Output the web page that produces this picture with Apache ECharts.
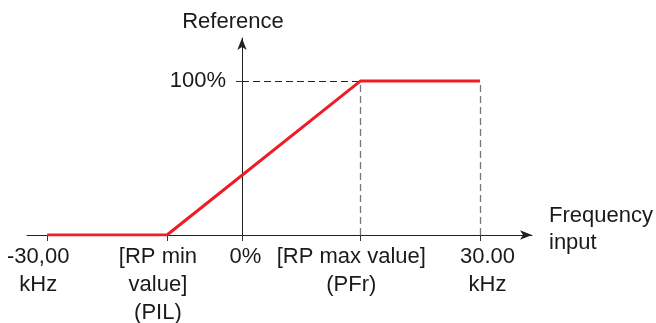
<!DOCTYPE html>
<html>
<head>
<meta charset="utf-8">
<script src="https://cdn.jsdelivr.net/npm/echarts@6/dist/echarts.min.js"></script>
<style>html,body{margin:0;padding:0;background:#fff}#c{width:656px;height:323px}</style>
</head>
<body>
<div id="c"></div>
<script>
// Conceptual x positions (0 = the 0% point where the reference axis sits)
const xTickValues = [-27, -10.4, 0, 16.4, 33];
const xTickLabels = ['-30,00\nkHz', '[RP min\nvalue]\n(PIL)', '0%', '[RP max value]\n(PFr)', '30.00\nkHz'];
const xLabelShift = ['l', 'l', 'r', 'l', 'rr'];
// Reference curve (x position, reference %)
const curveX = [-27, -10.4, 16.4, 33];
const curveY = [0, 0, 100, 100];
const yTickValues = [100];
const yTickLabels = ['100%'];
const xAxisNameLines = ['Frequency', 'input'];

const FONT = 'Liberation Sans, Arial, sans-serif';
const FS = 22;
const chart = echarts.init(document.getElementById('c'));
const curve = curveX.map((x, i) => [x, curveY[i]]);
const XMIN = -29.8, XMAX = 40.2;
const GRID_LEFT = 27, GRID_RIGHT = 124;
const gridW = 656 - GRID_LEFT - GRID_RIGHT;
const yAxisOffset = -gridW * (0 - XMIN) / (XMAX - XMIN);

chart.setOption({
  animation: false,
  grid: { left: GRID_LEFT, right: GRID_RIGHT, top: 38, bottom: 88, outerBoundsMode: 'none', containLabel: false },
  xAxis: {
    type: 'value', min: XMIN, max: XMAX,
    splitLine: { show: false },
    name: xAxisNameLines.map(t => '{a|' + t + '}').join('\n') + '\n{s| }',
    nameLocation: 'end', nameGap: 17,
    nameTextStyle: {
      fontFamily: FONT, fontSize: FS, color: '#1a1a1a', align: 'left',
      rich: {
        a: { fontFamily: FONT, fontSize: FS, color: '#1a1a1a', lineHeight: 27 },
        s: { fontSize: 8, lineHeight: 12 }
      }
    },
    axisLine: { onZero: false, symbol: ['none', 'arrow'], symbolSize: [7, 12], lineStyle: { color: '#222', width: 1 } },
    axisTick: { show: true, customValues: xTickValues, length: 6, lineStyle: { color: '#333' } },
    axisLabel: {
      customValues: xTickValues, margin: 8, showMinLabel: true, showMaxLabel: true, hideOverlap: false,
      fontFamily: FONT, fontSize: FS, color: '#1a1a1a', lineHeight: 28,
      formatter: function (v) {
        const i = xTickValues.indexOf(v);
        if (i < 0) return '';
        const s = xLabelShift[i];
        return xTickLabels[i].split('\n').map(t => '{' + s + '|' + t + '}').join('\n');
      },
      rich: {
        l: { fontFamily: FONT, fontSize: FS, color: '#1a1a1a', lineHeight: 28, padding: [0, 18, 0, 0] },
        r: { fontFamily: FONT, fontSize: FS, color: '#1a1a1a', lineHeight: 28, padding: [0, 0, 0, 7] },
        rr: { fontFamily: FONT, fontSize: FS, color: '#1a1a1a', lineHeight: 28, padding: [0, 0, 0, 15] }
      }
    }
  },
  yAxis: {
    type: 'value', min: 0, max: 128, position: 'left', offset: yAxisOffset,
    splitLine: { show: false },
    name: 'Reference', nameLocation: 'end', nameGap: 5,
    nameTextStyle: { fontFamily: FONT, fontSize: FS, color: '#1a1a1a', padding: [0, 18, 0, 0] },
    axisLine: { onZero: false, symbol: ['none', 'arrow'], symbolSize: [7, 12], lineStyle: { color: '#222', width: 1 } },
    axisTick: { show: true, customValues: yTickValues, length: 6, lineStyle: { color: '#333' } },
    axisLabel: {
      customValues: yTickValues, margin: 16, showMaxLabel: true,
      fontFamily: FONT, fontSize: FS, color: '#1a1a1a',
      formatter: function (v) { const i = yTickValues.indexOf(v); return i < 0 ? '' : yTickLabels[i]; }
    }
  },
  series: [{
    type: 'line', data: curve, symbol: 'none', z: 5,
    lineStyle: { color: '#ee1c25', width: 3 },
    markLine: {
      silent: true, symbol: 'none', label: { show: false },
      data: [
        [{ coord: [0, 100], lineStyle: { color: '#222', type: [7, 4], width: 1 } }, { coord: [curveX[2], 100] }],
        [{ coord: [curveX[2], 0], lineStyle: { color: '#777', type: [7, 4], width: 1.3 } }, { coord: [curveX[2], 100] }],
        [{ coord: [curveX[3], 0], lineStyle: { color: '#777', type: [7, 4], width: 1.3 } }, { coord: [curveX[3], 100] }]
      ]
    }
  }]
});
</script>
</body>
</html>
